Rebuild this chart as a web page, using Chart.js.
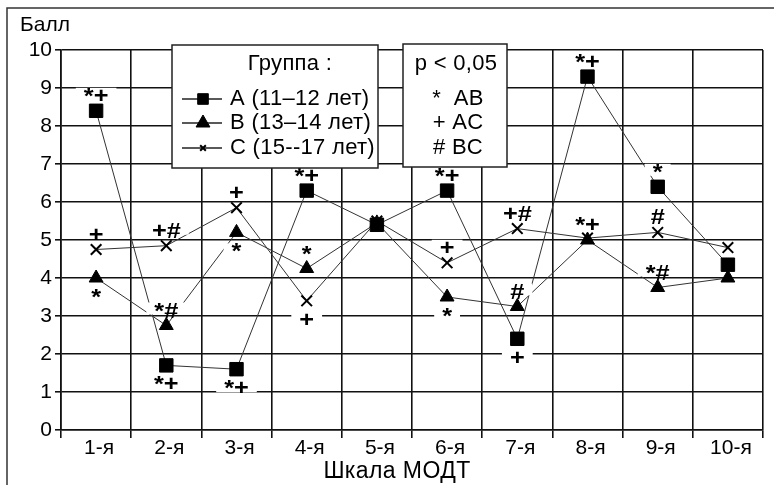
<!DOCTYPE html>
<html>
<head>
<meta charset="utf-8">
<script src="https://cdn.jsdelivr.net/npm/chart.js@4/dist/chart.umd.min.js"></script>
<style>
  html, body { margin: 0; padding: 0; background: #fff; }
  #wrap { width: 774px; height: 485px; }
</style>
</head>
<body>
<div id="wrap"><canvas id="c" width="774" height="485"></canvas></div>
<script>
// Шкалы МОДТ (категории оси X)
const categories = ['1-я', '2-я', '3-я', '4-я', '5-я', '6-я', '7-я', '8-я', '9-я', '10-я'];

// Средний балл по группам
const groupA = [8.4, 1.7, 1.6, 6.3, 5.4, 6.3, 2.4, 9.3, 6.4, 4.35];
const groupB = [4.0, 2.75, 5.2, 4.25, 5.45, 3.5, 3.25, 5.0, 3.75, 4.0];
const groupC = [4.75, 4.85, 5.85, 3.4, 5.5, 4.4, 5.3, 5.05, 5.2, 4.8];

// Значения оси Y
const yMin = 0;
const yMax = 10;
const yStep = 1;

// Пометки значимости (p < 0,05) у точек: текст и сторона (1 — над точкой, -1 — под точкой)
const marksA = ['*+', '*+', '*+', '*+', '', '*+', '+', '*+', '*', ''];
const sideA  = [1, -1, -1, 1, 0, 1, -1, 1, 1, 0];
const marksB = ['*', '*#', '*', '*', '', '*', '#', '*+', '*#', ''];
const sideB  = [-1, 1, -1, 1, 0, -1, 1, 1, 1, 0];
const marksC = ['+', '+#', '+', '+', '', '+', '+#', '', '#', ''];
const sideC  = [1, 1, 1, -1, 0, 1, 1, 0, 1, 0];

// Тексты легенд и подписей
const groupTitle = 'Группа :';
const groupNames = ['A (11–12 лет)', 'B (13–14 лет)', 'C (15--17 лет)'];
const pTitle = 'p < 0,05';
const pRows = ['*  AB', '+ AC', '# BC'];
const yTitle = 'Балл';
const xTitle = 'Шкала МОДТ';

const FONT = "'Liberation Sans', Arial, sans-serif";
const INK = '#000';

const datasets = [
  { label: groupNames[0], data: groupA, marks: marksA, side: sideA,
    pointStyle: 'rect', pointRadius: 9.5, borderColor: '#333', borderWidth: 1,
    pointBackgroundColor: '#000', pointBorderColor: '#000', pointBorderWidth: 1 },
  { label: groupNames[1], data: groupB, marks: marksB, side: sideB,
    pointStyle: 'triangle', pointRadius: 8, borderColor: '#333', borderWidth: 1,
    pointBackgroundColor: '#000', pointBorderColor: '#000', pointBorderWidth: 1 },
  { label: groupNames[2], data: groupC, marks: marksC, side: sideC,
    pointStyle: 'crossRot', pointRadius: 7.5, borderColor: '#333', borderWidth: 1,
    pointBackgroundColor: '#000', pointBorderColor: '#000', pointBorderWidth: 2 }
];

// Белый фон, внешняя рамка и подписи осей
const backdrop = {
  id: 'backdrop',
  beforeDraw(chart) {
    const ctx = chart.ctx;
    ctx.save();
    ctx.fillStyle = '#fff';
    ctx.fillRect(0, 0, chart.width, chart.height);
    ctx.restore();
  },
  afterDraw(chart) {
    const ctx = chart.ctx;
    ctx.save();
    ctx.strokeStyle = '#333';
    ctx.lineWidth = 1.5;
    ctx.beginPath();
    ctx.moveTo(7, chart.height);
    ctx.lineTo(7, 8);
    ctx.lineTo(chart.width, 8);
    ctx.stroke();
    ctx.fillStyle = INK;
    ctx.textBaseline = 'middle';
    ctx.font = '21px ' + FONT;
    ctx.textAlign = 'left';
    ctx.fillText(yTitle, 20, 25);
    ctx.font = '23px ' + FONT;
    ctx.letterSpacing = '0.4px';
    ctx.textAlign = 'center';
    ctx.fillText(xTitle, 397, 472);
    ctx.restore();
  }
};

// Пометки значимости на белой подложке
const sigMarks = {
  id: 'sigMarks',
  afterDatasetsDraw(chart) {
    const ctx = chart.ctx;
    ctx.save();
    ctx.font = 'bold 22px ' + FONT;
    ctx.textAlign = 'center';
    ctx.textBaseline = 'middle';
    const sx = 1.15;
    chart.data.datasets.forEach((ds, di) => {
      const meta = chart.getDatasetMeta(di);
      ds.marks.forEach((m, i) => {
        if (!m) return;
        const pt = meta.data[i];
        const x = pt.x;
        const y = pt.y - ds.side[i] * 17;
        const w = ctx.measureText(m).width * sx + 16;
        ctx.fillStyle = '#fff';
        ctx.fillRect(x - w / 2, y - 6, w, 12);
        ctx.fillStyle = INK;
        ctx.save();
        ctx.translate(x, y + 3);
        ctx.scale(sx, 1);
        ctx.fillText(m, 0, 0);
        ctx.restore();
      });
    });
    ctx.restore();
  }
};

// Две рамки легенды: группы и уровни значимости
const legendBoxes = {
  id: 'legendBoxes',
  afterDraw(chart) {
    const ctx = chart.ctx;
    ctx.save();
    ctx.lineWidth = 1.5;
    ctx.strokeStyle = '#222';
    ctx.fillStyle = '#fff';
    ctx.fillRect(172, 45, 206, 123);
    ctx.strokeRect(172, 45, 206, 123);
    ctx.fillRect(403, 44, 104, 123);
    ctx.strokeRect(403, 44, 104, 123);

    ctx.fillStyle = INK;
    ctx.textBaseline = 'middle';
    ctx.font = '22px ' + FONT;
    ctx.letterSpacing = '0.3px';
    ctx.textAlign = 'center';
    ctx.fillText(groupTitle, 290, 64);
    ctx.fillText(pTitle, 456, 64);

    const rows = [99, 123, 148];
    const legendRadius = [7.5, 8, 4];
    chart.data.datasets.forEach((ds, i) => {
      const y = rows[i];
      ctx.strokeStyle = '#222';
      ctx.lineWidth = 1.3;
      ctx.beginPath();
      ctx.moveTo(182, y);
      ctx.lineTo(222, y);
      ctx.stroke();
      ctx.fillStyle = '#000';
      ctx.strokeStyle = '#000';
      ctx.lineWidth = ds.pointBorderWidth;
      Chart.helpers.drawPoint(ctx, {
        pointStyle: ds.pointStyle, radius: legendRadius[i], rotation: 0,
        borderWidth: ds.pointBorderWidth
      }, 203, y);
      ctx.fillStyle = INK;
      ctx.textAlign = 'left';
      ctx.fillText(ds.label, 230, y);
      ctx.textAlign = 'center';
      ctx.fillText(pRows[i], 458, y);
    });
    ctx.restore();
  }
};

new Chart(document.getElementById('c'), {
  type: 'line',
  data: { labels: categories, datasets: datasets },
  options: {
    responsive: false,
    animation: false,
    layout: { padding: { left: 0, top: 50, right: 11, bottom: 0 } },
    plugins: { legend: { display: false }, tooltip: { enabled: false } },
    elements: { line: { tension: 0 } },
    scales: {
      x: {
        type: 'category',
        offset: true,
        grid: { offset: true, color: '#111', lineWidth: 1.6, tickLength: 8, tickColor: '#111' },
        border: { color: '#111', width: 1.6 },
        ticks: { color: INK, font: { family: FONT, size: 21 }, padding: -2,
                 labelOffset: 3, autoSkip: false, maxRotation: 0 },
        afterFit(scale) { scale.height = 55; }
      },
      y: {
        min: yMin, max: yMax,
        grid: { color: '#111', lineWidth: 1.6, tickLength: 6, tickColor: '#111' },
        border: { color: '#111', width: 1.6 },
        ticks: { stepSize: yStep, color: INK, font: { family: FONT, size: 21 }, padding: 3 },
        afterFit(scale) { scale.width = 61; }
      }
    }
  },
  plugins: [backdrop, sigMarks, legendBoxes]
});
</script>
</body>
</html>
